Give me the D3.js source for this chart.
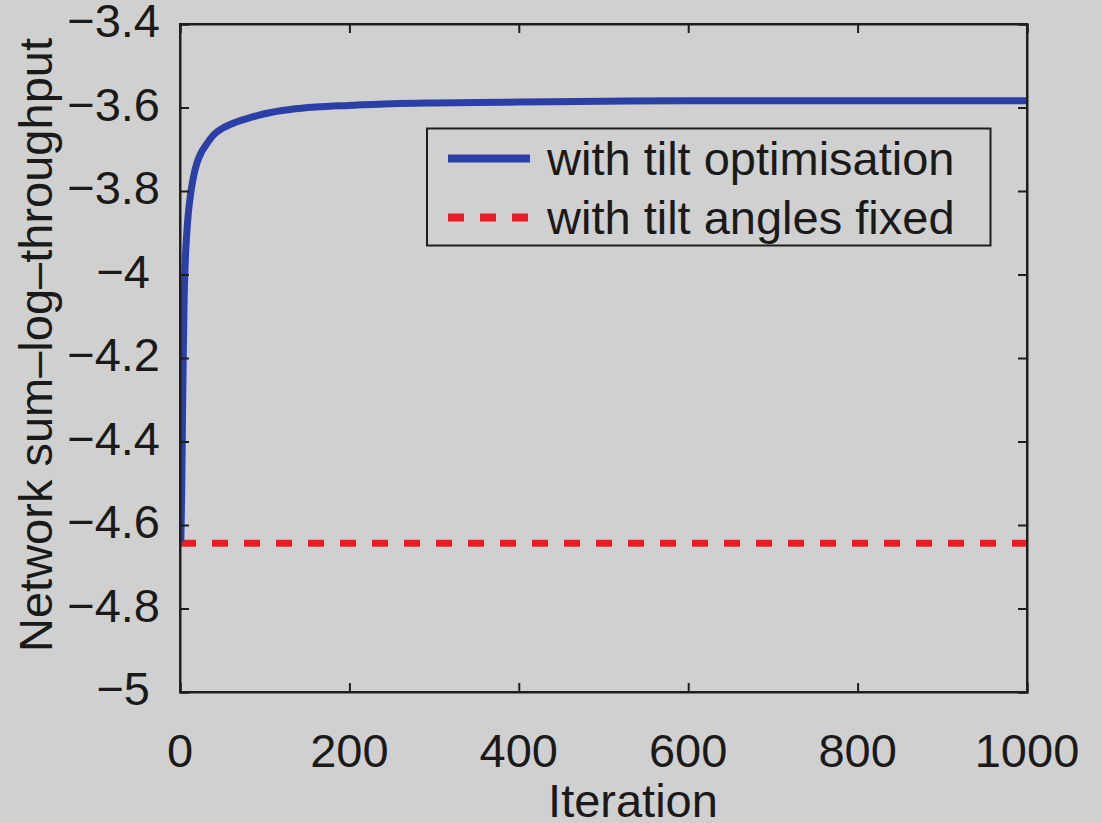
<!DOCTYPE html>
<html>
<head>
<meta charset="utf-8">
<script src="https://cdn.jsdelivr.net/npm/d3@7"></script>
<style>
  html, body { margin: 0; padding: 0; background: #d0d0d0; }
  svg { display: block; }
  text { font-family: "Liberation Sans", Arial, Helvetica, sans-serif; fill: #1a1a1a; }
</style>
</head>
<body>
<svg id="chart" width="1102" height="823"></svg>
<script>
// ---- data ----
const iterations = [1, 2, 3, 4, 5, 6, 8, 10, 13, 16, 20, 25, 30, 40, 50, 65, 80, 100, 130, 160, 200, 250, 300, 400, 500, 600, 700, 800, 900, 1000];
const withTiltOptimisation = [-4.64, -4.52, -4.33, -4.17, -4.05, -3.98, -3.90, -3.85, -3.80, -3.765, -3.733, -3.708, -3.692, -3.665, -3.650, -3.636, -3.626, -3.615, -3.605, -3.599, -3.595, -3.591, -3.589, -3.587, -3.585, -3.584, -3.584, -3.584, -3.584, -3.584];
const fixedTiltValue = -4.644;
const fixedIterRange = [0, 1000];
const xTicks = [0, 200, 400, 600, 800, 1000];
const yTicks = [-5, -4.8, -4.6, -4.4, -4.2, -4, -3.8, -3.6, -3.4];
const legendLabels = ["with tilt optimisation", "with tilt angles fixed"];
const xLabel = "Iteration";
const yLabel = "Network sum\u2013log\u2013throughput";

// ---- layout ----
const L = 180, R = 1027, T = 24, B = 692;
const blue = "#2c3fa6", red = "#ec1c24", axisCol = "#1e1e1e";
const fs = 47;

const svg = d3.select("#chart");
svg.append("rect").attr("width", 1102).attr("height", 823).attr("fill", "#d0d0d0");

const x = d3.scaleLinear().domain([0, 1000]).range([L, R]);
const y = d3.scaleLinear().domain([-5, -3.4]).range([B, T]);

const fmt = v => (v < 0 ? "\u2212" : "") + String(Math.abs(v));

// clip
svg.append("clipPath").attr("id", "clip")
  .append("rect").attr("x", L).attr("y", T).attr("width", R - L).attr("height", B - T);

// fixed (red dashed) line
svg.append("path")
  .datum(fixedIterRange)
  .attr("clip-path", "url(#clip)")
  .attr("d", d3.line().x(d => x(d)).y(() => y(fixedTiltValue)))
  .attr("fill", "none").attr("stroke", red).attr("stroke-width", 7)
  .attr("stroke-dasharray", "16,16");

// optimisation (blue) line
const pts = iterations.map((it, i) => [it, withTiltOptimisation[i]]);
svg.append("path")
  .datum(pts)
  .attr("clip-path", "url(#clip)")
  .attr("d", d3.line().x(d => x(d[0])).y(d => y(d[1])).curve(d3.curveMonotoneX))
  .attr("fill", "none").attr("stroke", blue).attr("stroke-width", 7)
  .attr("stroke-linejoin", "round");

// axes box
const tickLen = 9;
const axB = svg.append("g").attr("transform", `translate(0,${B})`)
  .call(d3.axisBottom(x).tickValues(xTicks).tickSize(-tickLen).tickFormat(""));
const axT = svg.append("g").attr("transform", `translate(0,${T})`)
  .call(d3.axisTop(x).tickValues(xTicks).tickSize(-tickLen).tickFormat(""));
const axL = svg.append("g").attr("transform", `translate(${L},0)`)
  .call(d3.axisLeft(y).tickValues(yTicks).tickSize(-tickLen).tickFormat(""));
const axR = svg.append("g").attr("transform", `translate(${R},0)`)
  .call(d3.axisRight(y).tickValues(yTicks).tickSize(-tickLen).tickFormat(""));
[axB, axT, axL, axR].forEach(g => {
  g.select(".domain").attr("stroke", axisCol).attr("stroke-width", 2);
  g.selectAll(".tick line").attr("stroke", axisCol).attr("stroke-width", 2);
});
svg.append("rect").attr("x", L).attr("y", T).attr("width", R - L).attr("height", B - T)
  .attr("fill", "none").attr("stroke", axisCol).attr("stroke-width", 2);

// tick labels
svg.append("g").selectAll("text").data(xTicks).join("text")
  .attr("x", d => x(d)).attr("y", 767)
  .attr("text-anchor", "middle").attr("font-size", fs)
  .text(d => String(d));

svg.append("g").selectAll("text").data(yTicks).join("text")
  .attr("x", d => Number.isInteger(d) ? 150 : 160)
  .attr("y", d => y(d) + 13)
  .attr("text-anchor", "end").attr("font-size", fs)
  .text(d => fmt(d));

// axis labels
svg.append("text").attr("x", 633).attr("y", 817)
  .attr("text-anchor", "middle").attr("font-size", fs).text(xLabel);
svg.append("text")
  .attr("transform", `translate(52,345) rotate(-90)`)
  .attr("text-anchor", "middle").attr("font-size", fs).text(yLabel);

// legend
const lg = svg.append("g");
lg.append("rect").attr("x", 427).attr("y", 128.5).attr("width", 563.5).attr("height", 117)
  .attr("fill", "#d0d0d0").attr("stroke", axisCol).attr("stroke-width", 2);
const legendColors = [blue, red];
const legendDash = [null, "16,16"];
const legendY = [158.5, 217.5];
legendLabels.forEach((lab, i) => {
  lg.append("line").attr("x1", 448).attr("x2", 530)
    .attr("y1", legendY[i]).attr("y2", legendY[i])
    .attr("stroke", legendColors[i]).attr("stroke-width", 8)
    .attr("stroke-dasharray", legendDash[i]);
  lg.append("text").attr("x", 547).attr("y", legendY[i] + 16)
    .attr("font-size", fs).text(lab);
});
</script>
</body>
</html>
